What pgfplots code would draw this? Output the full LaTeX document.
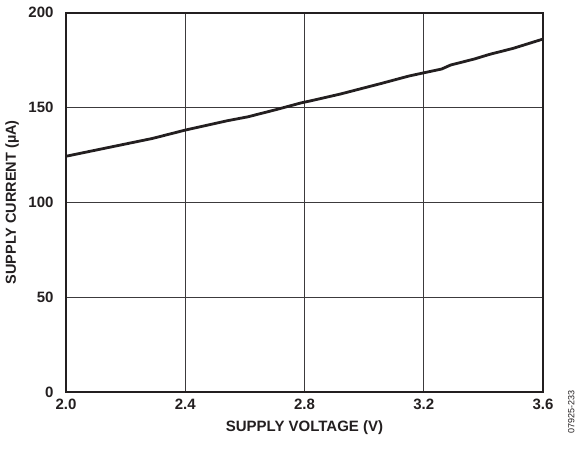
\documentclass[border=0pt]{standalone}
\usepackage{fontspec}
\setmainfont{Liberation Sans}
\usepackage{pgfplots}
\pgfplotsset{compat=1.18}
\definecolor{inkline}{RGB}{35,31,32}
\definecolor{gridink}{RGB}{60,58,60}

\begin{document}
\begin{tikzpicture}
\path[use as bounding box] (-66pt,-58pt) rectangle (511pt,392pt);
\begin{axis}[
    scale only axis,
    width=477pt,
    height=379.3pt,
    xmin=2.0, xmax=3.6,
    ymin=0, ymax=200,
    xtick={2.0,2.4,2.8,3.2,3.6},
    ytick={0,50,100,150,200},
    grid=major,
    major grid style={gridink, line width=0.9pt},
    axis line style={inkline, line width=1.8pt},
    tick style={draw=none},
    clip=false,
    /pgf/number format/assume math mode=true,
    xticklabel={\pgfmathprintnumber[fixed,fixed zerofill,precision=1]{\tick}},
    xticklabel style={font=\fontsize{15}{15}\selectfont\bfseries, yshift=-3pt, text=inkline},
    yticklabel style={font=\fontsize{15}{15}\selectfont\bfseries, xshift=-9pt, text=inkline},
    every axis y label/.style={at={(axis description cs:-0.113,0.5)}, rotate=90, anchor=center, font=\fontsize{14.5}{15}\selectfont\bfseries, text=inkline},
    every axis x label/.style={at={(axis description cs:0.5,-0.095)}, anchor=center, font=\fontsize{15}{15}\selectfont\bfseries, text=inkline},
    xlabel={SUPPLY VOLTAGE (V)},
    ylabel={SUPPLY CURRENT (µA)},
]
\addplot[inkline, line width=2.8pt, line join=round] coordinates {
    (2.00,124.3)
    (2.29,133.7)
    (2.40,138.1)
    (2.54,143.0)
    (2.61,145.1)
    (2.70,148.7)
    (2.79,152.5)
    (2.82,153.5)
    (2.92,157.1)
    (3.06,162.8)
    (3.15,166.6)
    (3.20,168.3)
    (3.26,170.3)
    (3.29,172.4)
    (3.37,175.6)
    (3.42,178.0)
    (3.50,181.2)
    (3.60,186.1)
};
\node[rotate=90, anchor=center, font=\fontsize{9}{9}\selectfont, text=inkline] at (rel axis cs:1.059,-0.053) {07925-233};
\end{axis}
\end{tikzpicture}
\end{document}
